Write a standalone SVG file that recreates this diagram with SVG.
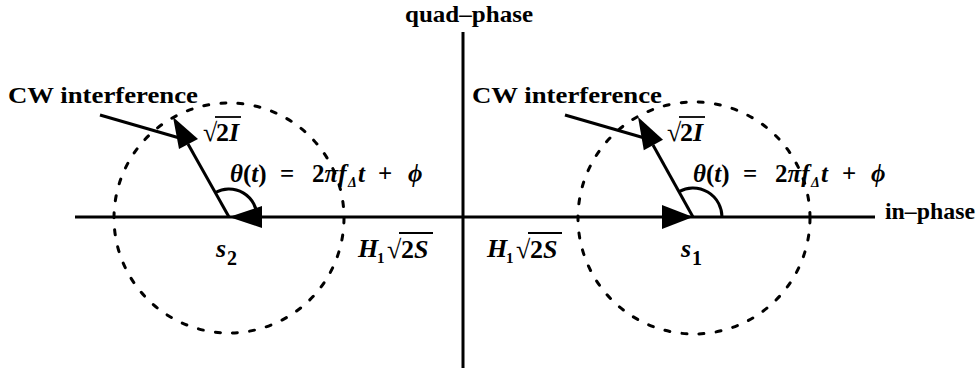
<svg xmlns="http://www.w3.org/2000/svg" width="979" height="373" viewBox="0 0 979 373">
<style>
.ln{stroke:#000;stroke-width:3;fill:none}
.dc{stroke:#000;stroke-width:3;fill:none;stroke-dasharray:5 12.2;stroke-linecap:round}
.ah{fill:#000;stroke:none}
.ov{stroke:#000;stroke-width:1.8}
text{font-family:"Liberation Serif","Times New Roman",serif;font-weight:bold;fill:#000}
.it{font-style:italic}
</style>
<rect width="979" height="373" fill="#fff"/>
<g id="axes">
  <line class="ln" x1="75" y1="217" x2="875" y2="217"/>
  <line class="ln" x1="463" y1="32" x2="463" y2="368"/>
  <text x="405" y="22" font-size="23" textLength="128" lengthAdjust="spacingAndGlyphs">quad–phase</text>
  <text x="885" y="219" font-size="23" textLength="90" lengthAdjust="spacingAndGlyphs">in–phase</text>
</g>
<g id="s2">
  <circle class="dc" cx="229" cy="218" r="115"/>
  <path class="ln" d="M215.4 192.5 A28 28 0 0 1 257 217"/>
  <text x="216" y="257" font-size="26" class="it">s</text>
  <text x="227" y="265" font-size="20">2</text>
  <text x="8" y="103" font-size="24" textLength="190" lengthAdjust="spacingAndGlyphs">CW interference</text>
  <text x="203" y="141" font-size="26">√</text>
  <line class="ov" x1="215" y1="117" x2="241" y2="117"/>
  <text x="216" y="141" font-size="26">2<tspan class="it">I</tspan></text>
  <text x="230" y="182" font-size="25"><tspan class="it">θ</tspan>(<tspan class="it">t</tspan>)</text>
  <text x="280" y="182" font-size="25">=</text>
  <text x="312" y="182" font-size="25">2<tspan class="it">πf</tspan></text>
  <text x="348" y="187" font-size="14" class="it">Δ</text>
  <text x="358" y="182" font-size="25" class="it">t</text>
  <text x="378" y="182" font-size="25">+</text>
  <text x="408" y="182" font-size="25" class="it">ϕ</text>
  <text x="358" y="257" font-size="26" class="it">H</text>
  <text x="377" y="263" font-size="15">1</text>
  <text x="387" y="258" font-size="26">√</text>
  <line class="ov" x1="399" y1="233" x2="433" y2="233"/>
  <text x="401" y="258" font-size="26">2<tspan class="it">S</tspan></text>
</g>
<g id="s1">
  <circle class="dc" cx="694" cy="218" r="116"/>
  <path class="ln" d="M679 191.6 A29 29 0 0 1 722 217"/>
  <text x="681" y="257" font-size="26" class="it">s</text>
  <text x="692" y="265" font-size="20">1</text>
  <text x="472" y="103" font-size="24" textLength="190" lengthAdjust="spacingAndGlyphs">CW interference</text>
  <text x="667" y="141" font-size="26">√</text>
  <line class="ov" x1="679" y1="117" x2="705" y2="117"/>
  <text x="680" y="141" font-size="26">2<tspan class="it">I</tspan></text>
  <text x="693" y="182" font-size="25"><tspan class="it">θ</tspan>(<tspan class="it">t</tspan>)</text>
  <text x="743" y="182" font-size="25">=</text>
  <text x="775" y="182" font-size="25">2<tspan class="it">πf</tspan></text>
  <text x="811" y="187" font-size="14" class="it">Δ</text>
  <text x="821" y="182" font-size="25" class="it">t</text>
  <text x="842" y="182" font-size="25">+</text>
  <text x="871" y="182" font-size="25" class="it">ϕ</text>
  <text x="487" y="257" font-size="26" class="it">H</text>
  <text x="506" y="263" font-size="15">1</text>
  <text x="516" y="258" font-size="26">√</text>
  <line class="ov" x1="528" y1="233" x2="562" y2="233"/>
  <text x="530" y="258" font-size="26">2<tspan class="it">S</tspan></text>
</g>
<g id="connectors">
  <line class="ln" x1="229" y1="217" x2="188" y2="144"/>
  <polygon class="ah" points="173,117 198,139 179,149"/>
  <line class="ln" x1="100" y1="115" x2="183" y2="139"/>
  <polygon class="ah" points="229,217 262,206 262,228"/>
  <line class="ln" x1="693" y1="217" x2="653" y2="145"/>
  <polygon class="ah" points="638,117 663,139.7 643.8,150.3"/>
  <line class="ln" x1="565" y1="115" x2="648" y2="139"/>
  <polygon class="ah" points="693,217 662,205 662,229"/>
</g>
</svg>
